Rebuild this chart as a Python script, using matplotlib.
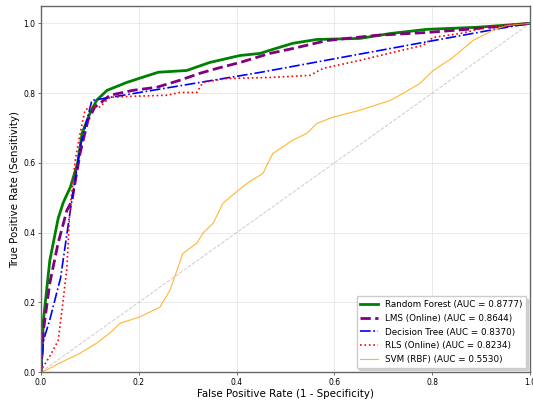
import matplotlib
matplotlib.use("Agg")
import matplotlib.pyplot as plt

rf_fpr = [0, 0.005, 0.018, 0.035, 0.045, 0.05, 0.06, 0.075, 0.084, 0.1, 0.114, 0.135, 0.176, 0.2, 0.24, 0.298, 0.345, 0.407, 0.448, 0.468, 0.515, 0.564, 0.652, 0.714, 0.789, 0.892, 1.0]
rf_tpr = [0, 0.15, 0.32, 0.44, 0.484, 0.5, 0.53, 0.6, 0.685, 0.742, 0.78, 0.808, 0.831, 0.842, 0.86, 0.865, 0.888, 0.908, 0.914, 0.923, 0.943, 0.954, 0.957, 0.971, 0.983, 0.989, 1.0]

lms_fpr = [0, 0.005, 0.018, 0.035, 0.053, 0.063, 0.08, 0.096, 0.11, 0.12, 0.141, 0.188, 0.237, 0.284, 0.325, 0.36, 0.407, 0.468, 0.515, 0.585, 0.687, 0.789, 0.871, 0.959, 1.0]
lms_tpr = [0, 0.12, 0.255, 0.37, 0.464, 0.49, 0.628, 0.722, 0.76, 0.77, 0.794, 0.808, 0.817, 0.837, 0.857, 0.871, 0.888, 0.914, 0.928, 0.951, 0.966, 0.974, 0.983, 0.994, 1.0]

dt_fpr = [0, 0.005, 0.018, 0.04, 0.06, 0.08, 0.104, 0.45, 0.78, 0.94, 1.0]
dt_tpr = [0, 0.09, 0.15, 0.27, 0.464, 0.645, 0.779, 0.86, 0.945, 0.986, 1.0]

rls_fpr = [0, 0.004, 0.02, 0.035, 0.043, 0.053, 0.059, 0.07, 0.08, 0.09, 0.1, 0.12, 0.141, 0.188, 0.258, 0.284, 0.319, 0.331, 0.38, 0.468, 0.55, 0.577, 0.652, 0.72, 0.781, 0.802, 0.857, 0.912, 0.98, 1.0]
rls_tpr = [0, 0.014, 0.05, 0.09, 0.178, 0.3, 0.464, 0.607, 0.685, 0.751, 0.76, 0.76, 0.788, 0.791, 0.794, 0.802, 0.802, 0.831, 0.842, 0.845, 0.851, 0.871, 0.894, 0.917, 0.937, 0.96, 0.971, 0.989, 1.0, 1.0]

svm_fpr = [0, 0.01, 0.039, 0.08, 0.114, 0.141, 0.162, 0.202, 0.243, 0.264, 0.29, 0.319, 0.331, 0.352, 0.372, 0.386, 0.421, 0.454, 0.474, 0.515, 0.544, 0.564, 0.597, 0.652, 0.714, 0.74, 0.775, 0.802, 0.843, 0.883, 0.924, 0.953, 1.0]
svm_tpr = [0, 0.005, 0.026, 0.054, 0.083, 0.112, 0.14, 0.158, 0.186, 0.235, 0.34, 0.37, 0.398, 0.427, 0.484, 0.501, 0.541, 0.57, 0.627, 0.665, 0.685, 0.713, 0.731, 0.751, 0.779, 0.799, 0.828, 0.865, 0.903, 0.951, 0.98, 0.994, 1.0]

labels = ["Random Forest (AUC = 0.8777)", "LMS (Online) (AUC = 0.8644)",
          "Decision Tree (AUC = 0.8370)", "RLS (Online) (AUC = 0.8234)",
          "SVM (RBF) (AUC = 0.5530)"]
x_label = "False Positive Rate (1 - Specificity)"
y_label = "True Positive Rate (Sensitivity)"

fig = plt.figure(figsize=(5.33, 4.05), dpi=100)
ax = fig.add_axes([41/533, 33/405, 489/533, 366/405])

ax.plot([0, 1], [0, 1], color="gray", ls="--", lw=0.7, alpha=0.4)
ax.plot(rf_fpr, rf_tpr, color="green", lw=2.0, ls="-", label=labels[0])
ax.plot(lms_fpr, lms_tpr, color="purple", lw=2.0, ls="--", label=labels[1])
ax.plot(dt_fpr, dt_tpr, color="blue", lw=1.2, ls="-.", label=labels[2])
ax.plot(rls_fpr, rls_tpr, color="red", lw=1.2, ls=":", label=labels[3])
ax.plot(svm_fpr, svm_tpr, color="orange", lw=0.8, ls="-", alpha=0.8, label=labels[4])

ax.set_xlim(0, 1)
ax.set_ylim(0, 1.05)
ax.set_xticks([0, 0.2, 0.4, 0.6, 0.8, 1.0])
ax.set_yticks([0, 0.2, 0.4, 0.6, 0.8, 1.0])
ax.tick_params(labelsize=5.5, length=2, width=0.6, color="#555555", pad=2)
ax.grid(True, color="#e6e6e6", lw=0.6)
for s in ax.spines.values():
    s.set_color("#666666")
    s.set_linewidth(1.0)
ax.set_xlabel(x_label, fontsize=7.4, labelpad=1.5)
ax.set_ylabel(y_label, fontsize=7.4, labelpad=2.5)
leg = ax.legend(loc="lower right", fontsize=6.3, shadow={"color": "#bbbbbb", "alpha": 0.6},
                fancybox=False, framealpha=1, handlelength=2.0, borderpad=0.4,
                labelspacing=0.55)
leg.get_frame().set_edgecolor("#cccccc")

fig.savefig("out.png", dpi=100)
